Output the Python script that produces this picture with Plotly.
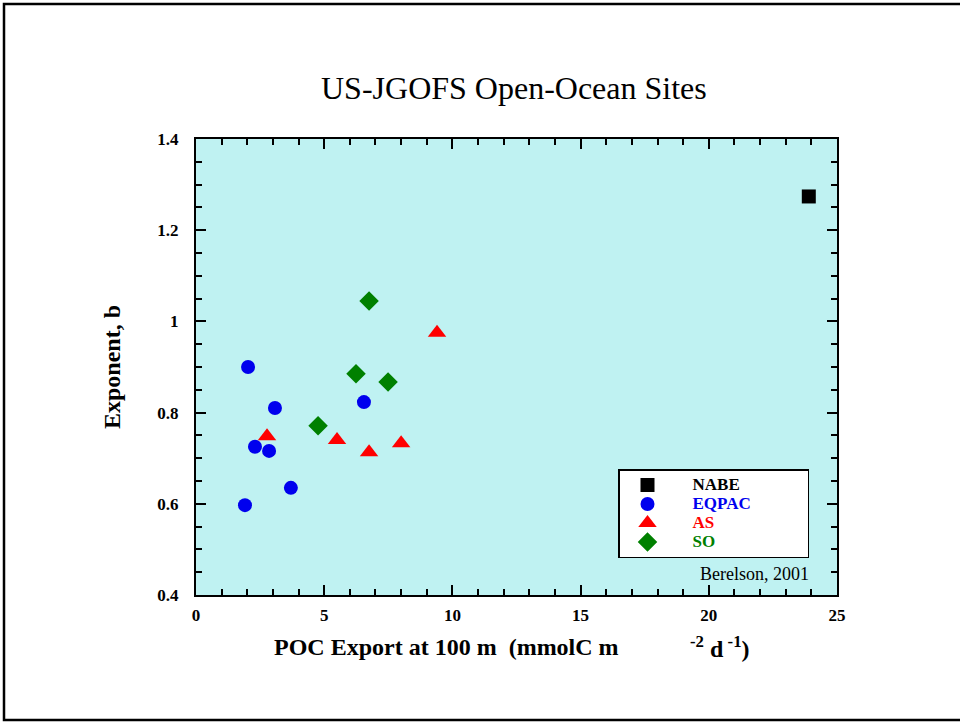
import plotly.graph_objects as go

# Data
nabe_x = [23.9]
nabe_y = [1.274]
eqpac_x = [2.03, 3.08, 2.3, 2.85, 3.7, 1.91, 6.55]
eqpac_y = [0.900, 0.810, 0.725, 0.716, 0.635, 0.597, 0.823]
as_x = [2.77, 5.5, 6.75, 8.0, 9.4]
as_y = [0.748, 0.740, 0.713, 0.733, 0.975]
so_x = [6.75, 6.24, 7.49, 4.76]
so_y = [1.045, 0.885, 0.867, 0.771]

FONT = "Liberation Serif, Times New Roman, serif"
L, R, T, B = 196, 837, 139, 595
W, H = 960, 722
PW, PH = R - L, B - T

def px(x):
    return (x - L) / PW

def py(y):
    return (B - y) / PH

NB = "\u00a0"

def lname(label, color):
    return f"<span style='color:{color};font-size:17px'>{NB * 4}<b>{label}</b></span>"

fig = go.Figure()
fig.add_trace(go.Scatter(x=nabe_x, y=nabe_y, mode="markers", name=lname("NABE", "black"),
                         marker=dict(symbol="square", size=14, color="black")))
fig.add_trace(go.Scatter(x=eqpac_x, y=eqpac_y, mode="markers",
                         name=lname("EQPAC", "#0000ee") + NB * 17,
                         marker=dict(symbol="circle", size=14, color="#0000ee")))
fig.add_trace(go.Scatter(x=as_x, y=as_y, mode="markers",
                         name=lname("AS", "#ff0000"),
                         marker=dict(symbol="triangle-up", size=16, color="#ff0000")))
fig.add_trace(go.Scatter(x=so_x, y=so_y, mode="markers",
                         name=lname("SO", "#008000"),
                         marker=dict(symbol="diamond", size=15, color="#008000")))

axis_common = dict(
    showgrid=False, zeroline=False, showline=True, linecolor="black", linewidth=2,
    mirror="ticks", ticks="inside", ticklen=10, tickwidth=1.5, tickcolor="black",
    tickfont=dict(family=FONT, size=17, color="black", weight="bold"),
)

fig.update_xaxes(range=[0, 25], dtick=5, tick0=0, ticklabelstandoff=4,
                 minor=dict(dtick=1, ticks="inside", ticklen=6, tickcolor="black", tickwidth=1.5),
                 **axis_common)
fig.update_yaxes(range=[0.4, 1.4], dtick=0.2, tick0=0.4, ticklabelstandoff=12,
                 minor=dict(dtick=0.05, ticks="inside", ticklen=6, tickcolor="black", tickwidth=1.5),
                 **axis_common)

ann = dict(xref="paper", yref="paper", showarrow=False, xanchor="center", yanchor="middle")

fig.update_layout(
    width=W, height=H,
    margin=dict(l=L, r=W - R, t=T, b=H - B),
    paper_bgcolor="white", plot_bgcolor="#bff2f2",
    font=dict(family=FONT, color="black"),
    showlegend=True,
    legend=dict(x=px(618), y=py(469), xanchor="left", yanchor="top",
                bgcolor="white", bordercolor="black", borderwidth=1.5,
                font=dict(family=FONT, size=12, color="black"),
                tracegroupgap=0, itemwidth=46),
    annotations=[
        dict(ann, text="US-JGOFS Open-Ocean Sites", x=px(514), y=py(88),
             font=dict(family=FONT, size=32, color="black")),
        dict(ann, text="<b>POC Export at 100 m  (mmolC m</b>", x=px(272), y=py(647),
             xanchor="left", font=dict(family=FONT, size=24, color="black")),
        dict(ann, text="<b><sup>-2</sup> d<sup> -1</sup>)</b>", x=px(688), y=py(647),
             xanchor="left", font=dict(family=FONT, size=24, color="black")),
        dict(ann, text="<b>Exponent, b</b>", x=px(112), y=py(367),
             textangle=-90, font=dict(family=FONT, size=24, color="black")),
        dict(ann, text="Berelson, 2001", x=px(811), y=py(574),
             xanchor="right", font=dict(family=FONT, size=18, color="black")),
    ],
    shapes=[
        dict(type="rect", xref="paper", yref="paper", x0=px(4), x1=px(965), y0=py(720), y1=py(4),
             line=dict(color="black", width=2.5), fillcolor="rgba(0,0,0,0)", layer="below"),
    ],
)

fig.write_html("out.html", config={"displayModeBar": False},
               post_script="document.body.style.margin='0';document.body.style.overflow='hidden';")
